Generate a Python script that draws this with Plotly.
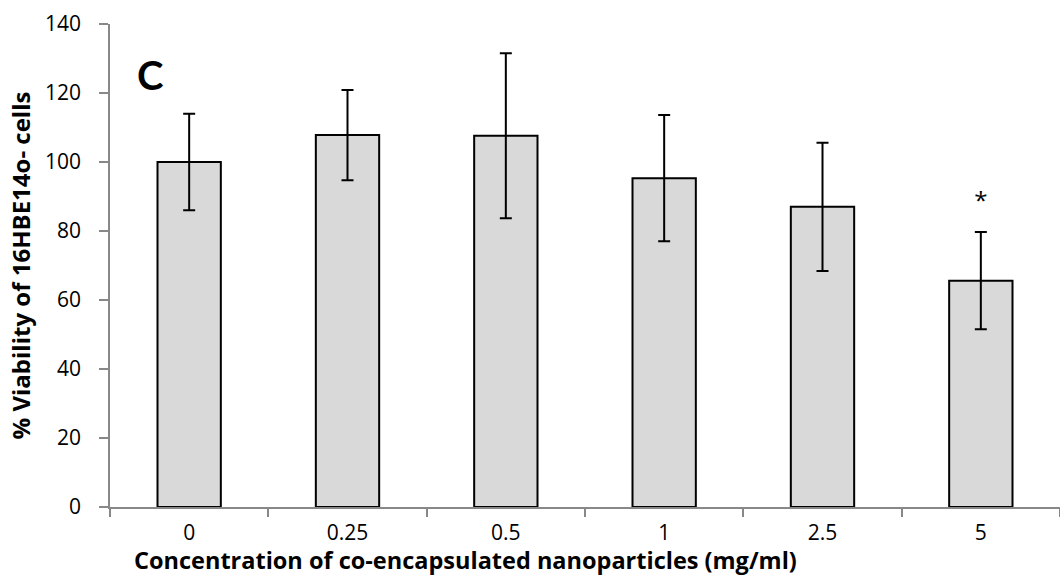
import plotly.graph_objects as go

categories = ["0", "0.25", "0.5", "1", "2.5", "5"]
viability = [100.0, 107.8, 107.6, 95.3, 87.0, 65.6]
errors = [14.0, 13.1, 23.9, 18.3, 18.6, 14.1]
sig_marks = ["", "", "", "", "", "*"]
y_ticks = [0, 20, 40, 60, 80, 100, 120, 140]

FONT = "Open Sans"

fig = go.Figure()
fig.add_trace(go.Bar(
    x=categories, y=viability,
    marker=dict(color="#d9d9d9", line=dict(color="black", width=2)),
    error_y=dict(type="data", array=errors, visible=True, color="black", thickness=2, width=6),
    width=0.4,
    showlegend=False,
))
fig.add_trace(go.Scatter(
    x=categories, y=[v + e + 8.5 for v, e in zip(viability, errors)],
    mode="text", text=sig_marks, textfont=dict(family=FONT, size=24, color="black"),
    showlegend=False, hoverinfo="skip",
))

fig.update_layout(
    width=1060, height=575,
    margin=dict(l=110, r=0, t=24, b=68),
    plot_bgcolor="white", paper_bgcolor="white",
    font=dict(family=FONT, color="black"),
    xaxis=dict(
        tickson="boundaries", ticks="outside", ticklen=8, tickcolor="#888", tickwidth=1.5,
        showline=True, linecolor="#888", linewidth=1.5, showgrid=False,
        tickfont=dict(size=21), ticklabelstandoff=6,
    ),
    yaxis=dict(
        range=[0, 140], tickvals=y_ticks, ticks="outside", ticklen=9, tickcolor="#888", tickwidth=1.5,
        showline=True, linecolor="#888", linewidth=1.5, showgrid=False, zeroline=False,
        tickfont=dict(size=21), ticklabelstandoff=14,
        title=dict(text="<b>% Viability of 16HBE14o- cells</b>", font=dict(size=24), standoff=8),
    ),
    annotations=[
        dict(text="<b>C</b>", x=0.026, y=0.895, xref="paper", yref="paper",
             showarrow=False, font=dict(size=40, family="Lato"), xanchor="left", yanchor="middle"),
        dict(text="<b>Concentration of co-encapsulated nanoparticles (mg/ml)</b>",
             x=0.3737, y=-0.11, xref="paper", yref="paper", showarrow=False,
             font=dict(size=23.5, family=FONT), xanchor="center", yanchor="middle"),
    ],
)

fig.write_html("out.html")
